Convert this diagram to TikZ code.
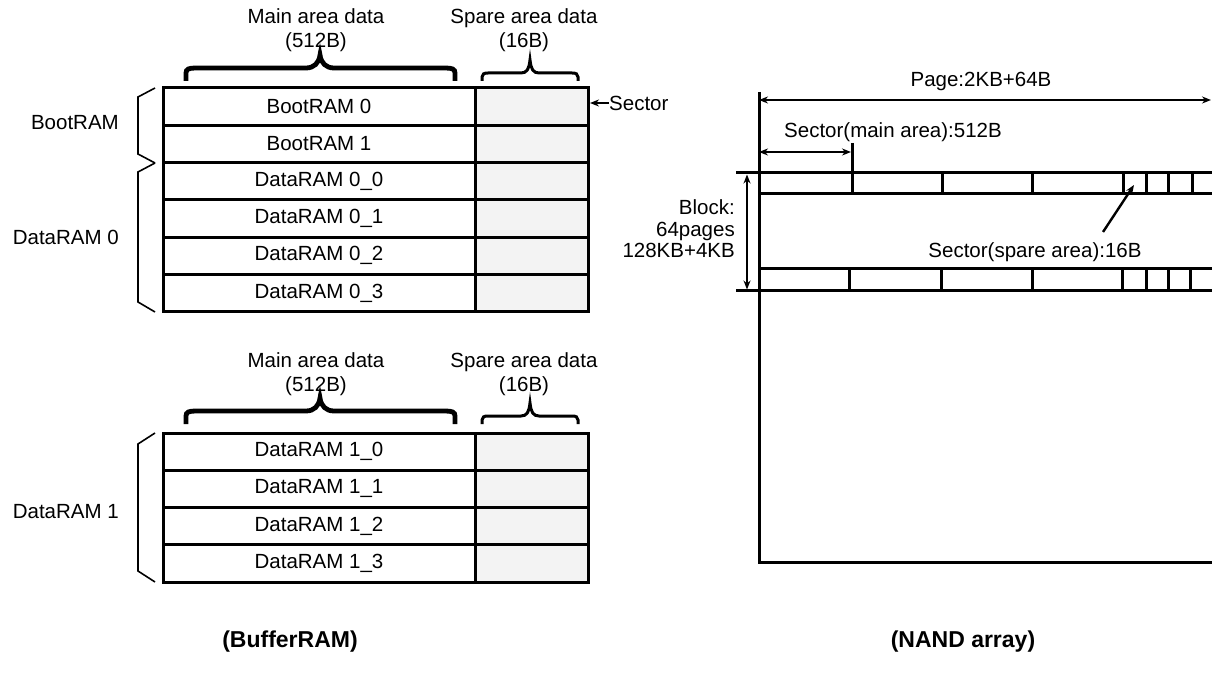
\documentclass[tikz,border=0pt]{standalone}
\usepackage{fontspec}
\setmainfont{Liberation Sans}
\usetikzlibrary{arrows.meta}
\definecolor{sparegray}{HTML}{F3F3F3}
\begin{document}
\begin{tikzpicture}[x=1pt,y=-1pt,
  txt/.style={font=\fontsize{20.5}{24}\selectfont,inner sep=0pt,align=center},
  maincell/.style={draw,line width=3pt,minimum width=312pt,minimum height=37.3pt,inner sep=0pt,font=\fontsize{20.5}{24}\selectfont},
  sparecell/.style={draw,line width=3pt,fill=sparegray,minimum width=113pt,minimum height=37.3pt,inner sep=0pt},
  thinbr/.style={line width=1.6pt},
  bigbrace/.style={line width=4.8pt},
  smallbrace/.style={line width=3pt},
  nline/.style={line width=3pt},
  dblarr/.style={line width=2.4pt,{Stealth[length=9pt,width=7pt]}-{Stealth[length=9pt,width=7pt]}},
  onearr/.style={line width=2.4pt,-{Stealth[length=9pt,width=7pt]}},
  title/.style={font=\bfseries\fontsize{23}{27}\selectfont,inner sep=0pt}
]
\useasboundingbox (0,0) rectangle (1212,684);

% ---------- BufferRAM table 1 ----------
\foreach \i/\t in {1/BootRAM 0,2/BootRAM 1,3/DataRAM 0\_0,4/DataRAM 0\_1,5/DataRAM 0\_2,6/DataRAM 0\_3}{
  \node[sparecell] (s\i) at (531.5,{88+37.3*\i-18.65}) {};
  \node[maincell] (m\i) at (319,{88+37.3*\i-18.65}) {\t};
}
% ---------- BufferRAM table 2 ----------
\foreach \i/\t in {1/DataRAM 1\_0,2/DataRAM 1\_1,3/DataRAM 1\_2,4/DataRAM 1\_3}{
  \node[sparecell] (t\i) at (531.5,{433+37.3*\i-18.65}) {};
  \node[maincell] (n\i) at (319,{433+37.3*\i-18.65}) {\t};
}

% headers
\node[txt] (mh1) at (316,30) {Main area data\\(512B)};
\node[txt] (sh1) at (524,30) {Spare area data\\(16B)};
\node[txt] (mh2) at (316,374) {Main area data\\(512B)};
\node[txt] (sh2) at (524,374) {Spare area data\\(16B)};

% braces over columns
\foreach \dy in {0,343}{
  \begin{scope}[yshift={-\dy pt}]
  \draw[bigbrace] (186,81) -- (186,73) .. controls (186,69) and (189,68) .. (196,68)
     -- (306,68) .. controls (314,68) and (319,63) .. (320,55)
     .. controls (321,63) and (326,68) .. (334,68)
     -- (445,68) .. controls (452,68) and (455,69) .. (455,73) -- (455,81);
  \draw[smallbrace] (482,81) -- (482,77) .. controls (482,74) and (484,73) .. (488,73)
     -- (521,73) .. controls (527,73) and (529,69) .. (530,60)
     .. controls (531,69) and (533,73) .. (539,73)
     -- (572,73) .. controls (576,73) and (578,74) .. (578,77) -- (578,81);
  \end{scope}
}

% left brackets
\draw[thinbr] (155,88) -- (138,97) -- (138,154) -- (155,163);
\draw[thinbr] (155,163) -- (138,172) -- (138,302) -- (155,312);
\draw[thinbr] (155,433) -- (138,444) -- (138,571) -- (155,582);
\node[txt,anchor=east] (lb0) at (119,123) {BootRAM};
\node[txt,anchor=east] (ld0) at (119,237) {DataRAM 0};
\node[txt,anchor=east] (ld1) at (119,512) {DataRAM 1};

% Sector label
\node[txt,anchor=west] (sec) at (609,103) {Sector};
\coordinate (sectip) at (590,103);
\draw[onearr,line width=2pt] (sec.west) -- (sectip);

% ---------- NAND array ----------
\coordinate (tl) at (759,92);
\coordinate (bl) at (759,562);
\coordinate (br) at (1212,562);
\draw[nline] (tl) -- (bl) -- (br);

\node[txt] (page) at (981,81) {Page:2KB+64B};
\coordinate (pl) at (759,100);
\coordinate (pr) at (1211,100);
\draw[dblarr] (pl) -- (pr);

\node[txt] (secm) at (893,132) {Sector(main area):512B};
\coordinate (sml) at (759,152);
\coordinate (smr) at (851,152);
\draw[dblarr] (sml) -- (smr);
\draw[nline] (852,143) -- (852,194);

% row 1
\draw[nline] (736,173) -- (1212,173);
\draw[nline] (759,194) -- (1212,194);
\foreach \x in {942,1032,1123,1146,1168,1192}{
  \draw[nline] (\x,173) -- (\x,194);
}
% row 2
\draw[nline] (759,269) -- (1212,269);
\draw[nline] (736,291) -- (1212,291);
\foreach \x in {849,941,1032,1122,1146,1168,1190}{
  \draw[nline] (\x,269) -- (\x,291);
}

% block arrow
\coordinate (bt) at (747,174.5);
\coordinate (bb) at (747,289.5);
\draw[dblarr,line width=2.8pt] (bt) -- (bb);
\node[txt,align=right,anchor=east,font=\fontsize{20.5}{21.5}\selectfont] (blk) at (735,229) {Block:\\64pages\\128KB+4KB};

% spare sector arrow
\node[txt] (secs) at (1035,252) {Sector(spare area):16B};
\coordinate (sst) at (1103,232);
\coordinate (ssh) at (1134,185);
\draw[onearr] (sst) -- (ssh);

% titles
\node[title] (tb) at (290,642) {(BufferRAM)};
\node[title] (tn) at (963,642) {(NAND array)};
\end{tikzpicture}
\end{document}
